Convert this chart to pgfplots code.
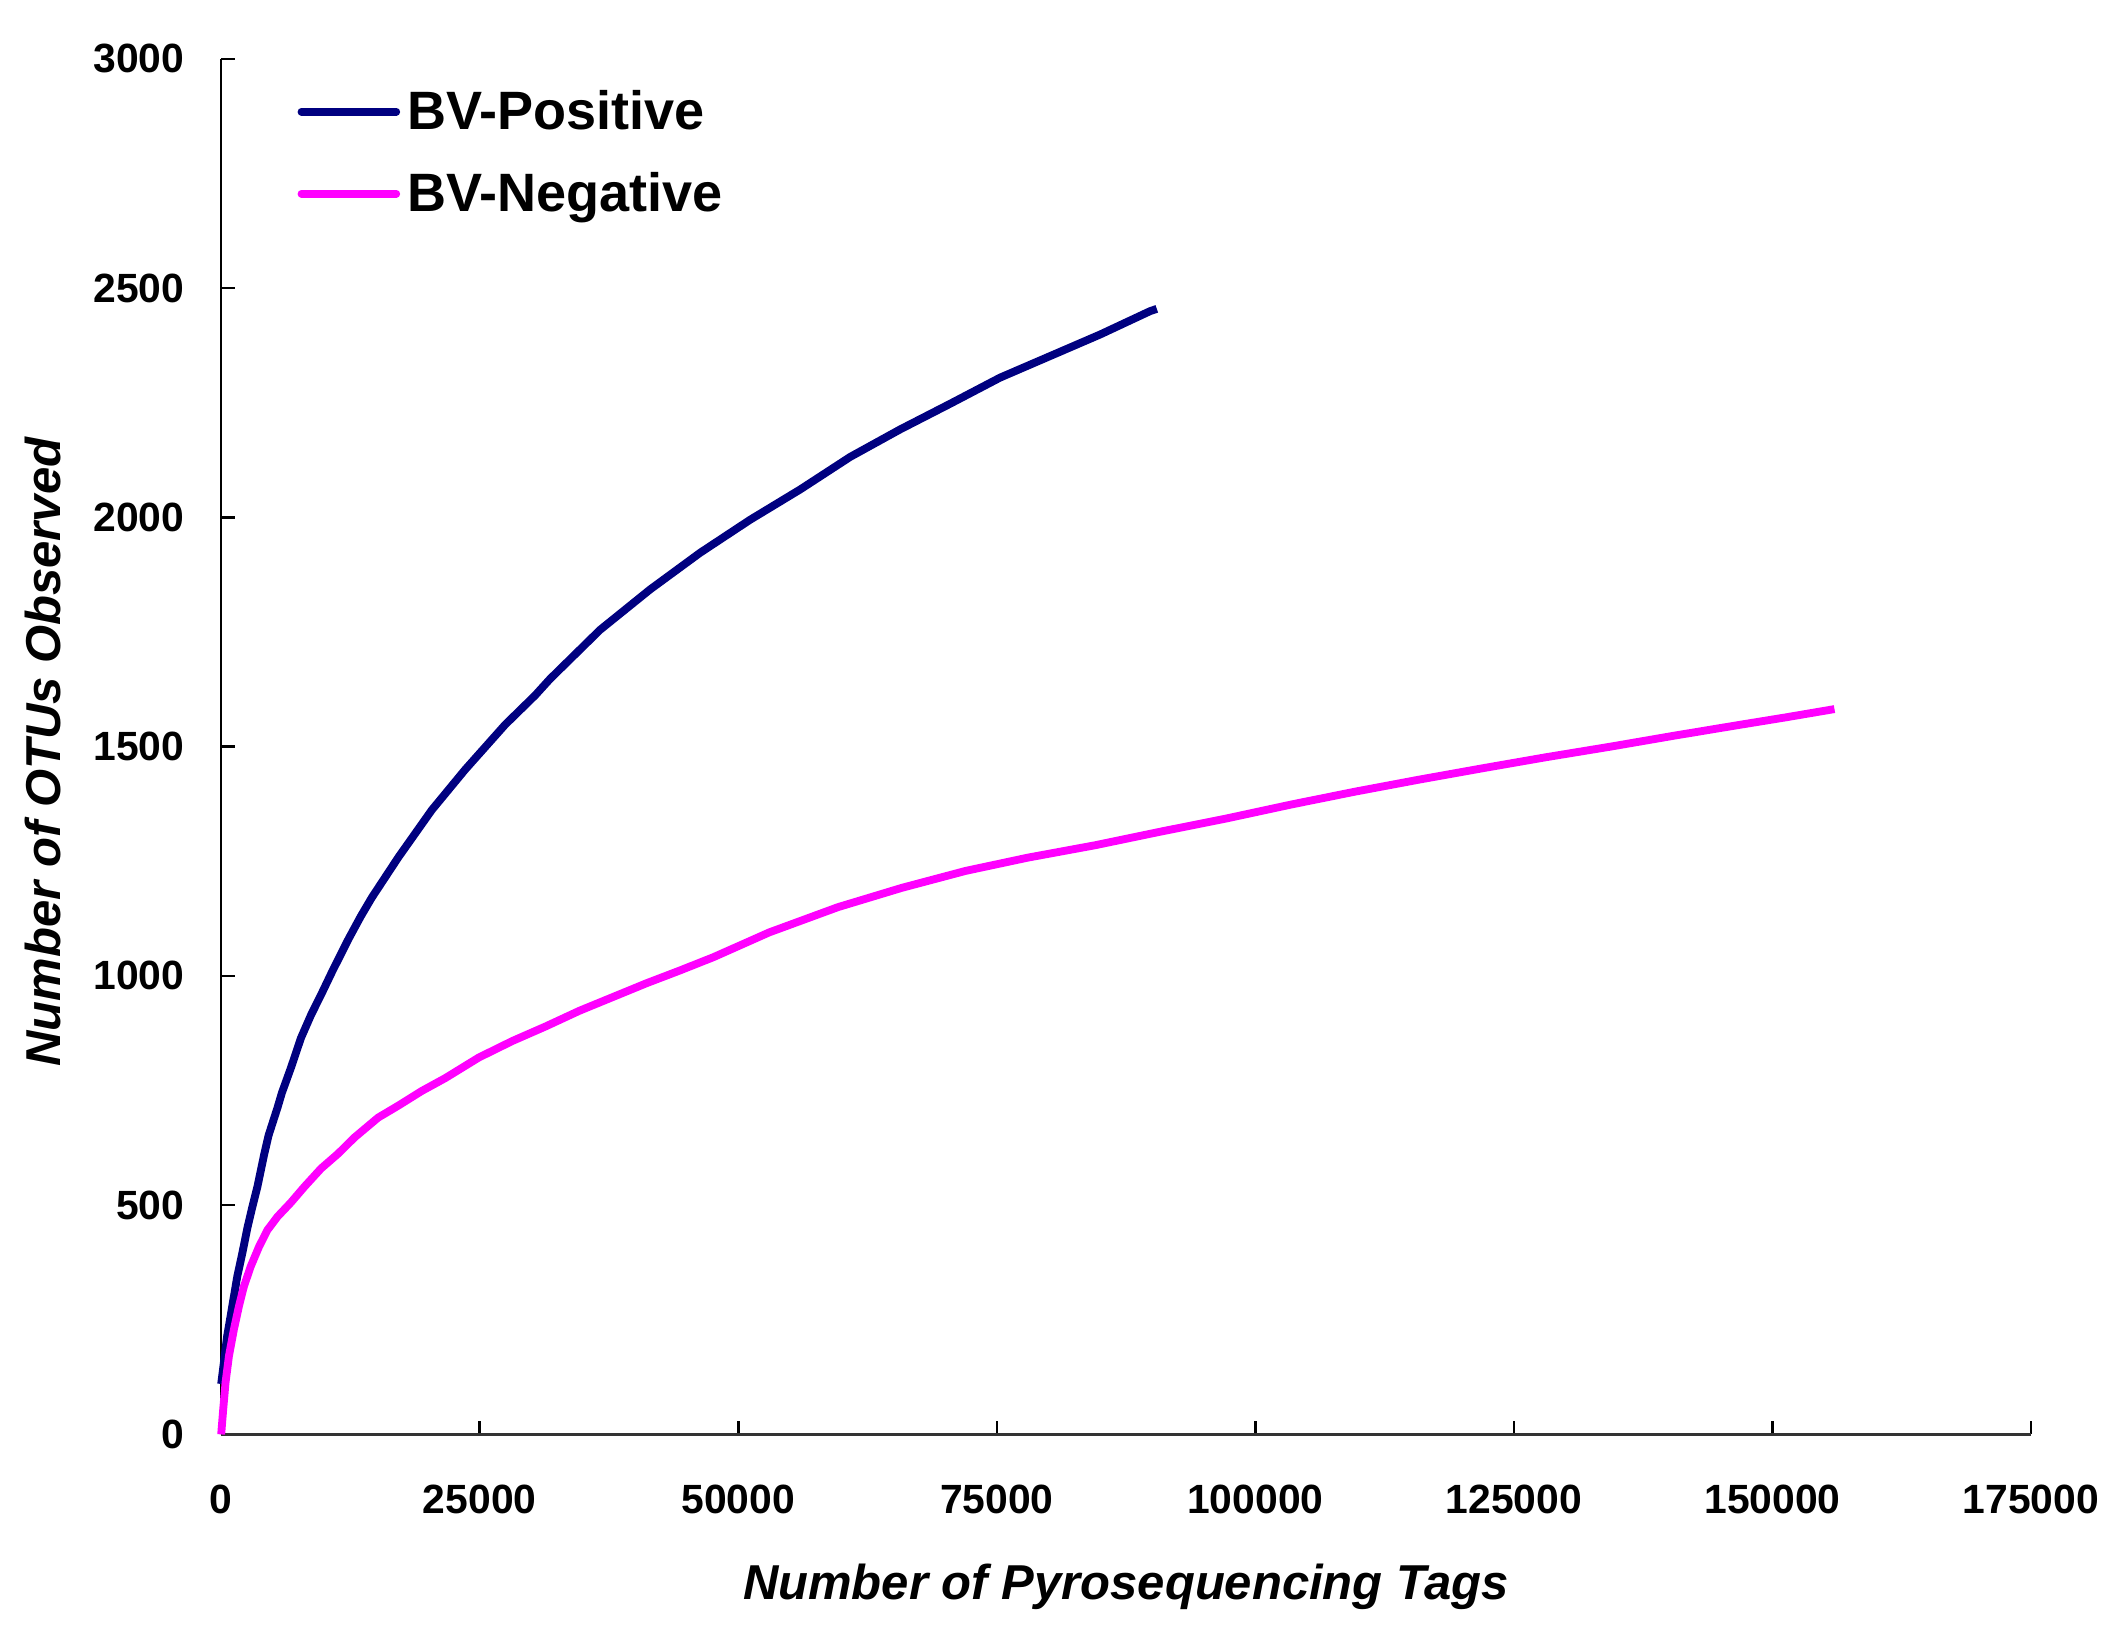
\documentclass[border=0pt]{standalone}
\usepackage{fontspec}
\setmainfont{Liberation Sans}
\usepackage{pgfplots}
\pgfplotsset{compat=1.18}
\definecolor{bvpos}{RGB}{0,0,128}
\definecolor{bvneg}{RGB}{255,0,255}
\begin{document}
\begin{tikzpicture}
\useasboundingbox (-2.475cm,-2.16cm) rectangle (21.045cm,16.05cm);
\begin{axis}[
  at={(0,0)}, anchor=south west,
  scale only axis, width=20.25cm, height=15.39cm,
  xmin=0, xmax=175000, ymin=0, ymax=3000,
  axis lines=left,
  axis line style={-, line width=0.8pt, black},
  x axis line style={line width=1.1pt, black!80},
  xtick={0,25000,50000,75000,100000,125000,150000,175000},
  ytick={0,500,1000,1500,2000,2500,3000},
  scaled x ticks=false, scaled y ticks=false,
  tick align=inside, major tick length=0.15cm,
  tick style={line width=0.8pt, black},
  /pgf/number format/fixed,
  /pgf/number format/precision=0,
  /pgf/number format/1000 sep={},
  /pgf/number format/assume math mode=true,
  ticklabel style={font=\fontsize{13}{15}\selectfont\bfseries},
  xticklabel style={anchor=north, inner sep=0pt, yshift=-0.555cm},
  yticklabel style={anchor=east, inner sep=0pt, xshift=-0.405cm},
  xlabel={Number of Pyrosequencing Tags},
  ylabel={Number of OTUs Observed},
  label style={font=\fontsize{15.6}{18}\selectfont\bfseries\itshape},
  xlabel style={at={(rel axis cs:0.5,-0.1199)}, anchor=base, inner sep=0pt},
  ylabel style={at={(rel axis cs:-0.0889,0.4961)}, anchor=base, inner sep=0pt},
  clip=false,
  legend cell align=left,
  legend image code/.code={\draw[#1, line width=2.5pt, line cap=round] (0cm,1.4pt) -- (1.06cm,1.4pt);},
  legend style={at={(rel axis cs:0.0422,0.9766)}, anchor=north west,
    draw=none, fill=none, inner sep=0pt, outer sep=0pt,
    row sep=10.2pt, column sep=0.08cm,
    font=\fontsize{17.2}{19}\selectfont\bfseries,
    nodes={inner sep=0pt, text height=12.3pt, text depth=3.6pt}},
]
\addplot[bvpos, line width=2.5pt] coordinates {
(0,110) (580,215) (910,258) (1230,301) (1560,345) (2040,395) (2530,450)
(3000,495) (3500,540) (4150,610) (4580,652) (5450,713) (5870,745)
(6750,800) (7720,865) (8690,915) (9660,959) (10700,1008) (12300,1080)
(13500,1130) (14570,1171) (17140,1259) (20370,1362) (23590,1450)
(27460,1548) (30360,1612) (31810,1648) (36645,1755) (41480,1843)
(46315,1923) (51150,1995) (55985,2061) (60820,2132) (65650,2192)
(70490,2248) (75320,2305) (80155,2352) (84990,2399) (89825,2450)
(90470,2455)
};
\addlegendentry{BV-Positive}
\addplot[bvneg, line width=2.5pt] coordinates {
(0,0) (200,56) (420,113) (750,171) (1230,229) (1720,280) (2200,323)
(2850,366) (3670,410) (4480,446) (5450,475) (6750,506) (8040,540)
(9660,580) (11290,612) (12910,648) (15180,691) (17120,717) (19390,749)
(21660,777) (24910,822) (28150,858) (31390,890) (34640,924) (37880,954)
(41120,984) (44370,1012) (47610,1041) (53000,1095) (59640,1150)
(65800,1192) (71970,1229) (78000,1258) (84500,1285) (90900,1315)
(97330,1344) (103500,1374) (109660,1402) (115800,1428) (121990,1453)
(128100,1477) (134320,1500) (140500,1524) (146660,1547) (151300,1564)
(156000,1582)
};
\addlegendentry{BV-Negative}
\end{axis}
\end{tikzpicture}
\end{document}
